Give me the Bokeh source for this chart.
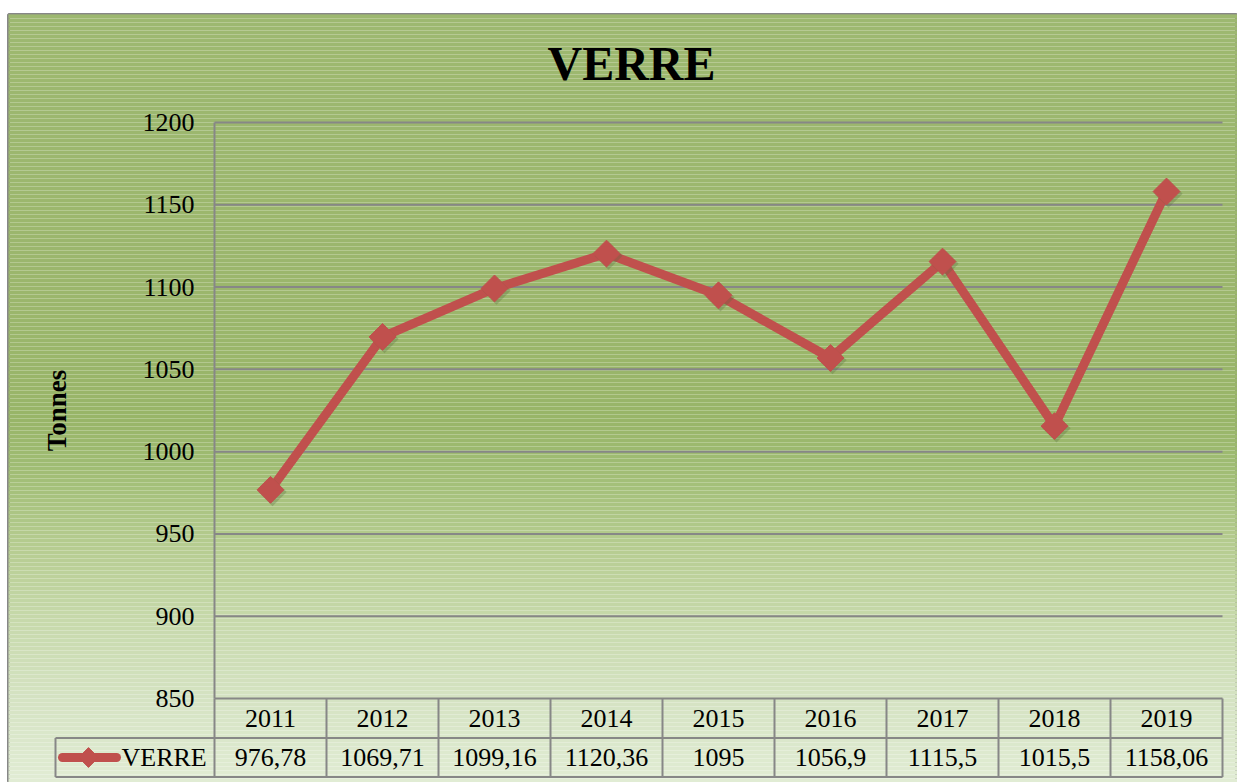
import numpy as np
from bokeh.plotting import figure
from bokeh.models import Range1d, FixedTicker, Label
from bokeh.embed import file_html
from bokeh.resources import INLINE
from bokeh.core.properties import value

# ---------------- data ----------------
years = ["2011", "2012", "2013", "2014", "2015", "2016", "2017", "2018", "2019"]
tonnes = [976.78, 1069.71, 1099.16, 1120.36, 1095, 1056.9, 1115.5, 1015.5, 1158.06]
y_ticks = [850, 900, 950, 1000, 1050, 1100, 1150, 1200]
series_name = "VERRE"
chart_title = "VERRE"
y_label = "Tonnes"

# ---------------- layout helpers (canvas pixels -> data units) ----------------
W, H = 1237, 782
LEFT_WHITE, TOP_WHITE = 8, 14
COL0_PX, COL_W = 270.0, 112.0           # centre of first category, column width
Y_HI_PX, Y_LO_PX = 122.0, 698.0          # pixel rows of 1200 and 850
PX_PER_T = (Y_LO_PX - Y_HI_PX) / (y_ticks[-1] - y_ticks[0])


def X(px):
    return (px - COL0_PX) / COL_W


def Y(py):
    return y_ticks[-1] - (py - Y_HI_PX) / PX_PER_T


n = len(years)
idx = list(range(n))
FONT = "Liberation Serif"
GRID_C = "#878787"
RED = "#c0504d"

p = figure(width=W, height=H, output_backend="svg", toolbar_location=None,
           x_range=Range1d(X(LEFT_WHITE), X(W)), y_range=Range1d(Y(H), Y(TOP_WHITE)),
           x_axis_type=None, min_border_left=LEFT_WHITE, min_border_right=0,
           min_border_bottom=0, min_border_top=TOP_WHITE)
p.border_fill_color = "white"
p.outline_line_color = GRID_C
p.outline_line_width = 3
p.xgrid.visible = False
p.ygrid.visible = False

# ---------------- gradient background ----------------
stops_px = [14, 300, 420, 470, 540, 620, 700, 782]
stops_rgb = np.array([
    [157, 184, 112],
    [155, 182, 108],
    [152, 181, 104],
    [160, 189, 116],
    [180, 203, 142],
    [199, 217, 171],
    [213, 227, 195],
    [225, 236, 212],
])
edges = np.linspace(14, 782, 193)
mids = (edges[:-1] + edges[1:]) / 2
cols = []
for m in mids:
    c = [int(round(np.interp(m, stops_px, stops_rgb[:, k]))) for k in range(3)]
    cols.append("#%02x%02x%02x" % tuple(c))
p.quad(left=X(0), right=X(W + 20), top=[Y(e) for e in edges[:-1]],
       bottom=[Y(e) for e in edges[1:]], fill_color=cols,
       line_color=None, level="underlay")
p.quad(left=X(0), right=X(W + 20), top=Y(0), bottom=Y(14.5),
       fill_color=cols[0], line_color=None, level="underlay")
p.quad(left=X(0), right=X(W + 20), top=Y(781.5), bottom=Y(H + 20),
       fill_color=cols[-1], line_color=None, level="underlay")

# ---------------- y axis ----------------
yax = p.yaxis[0]
yax.fixed_location = -0.5
yax.bounds = (y_ticks[0], y_ticks[-1])
yax.ticker = FixedTicker(ticks=y_ticks)
yax.major_tick_out = 0
yax.major_tick_in = 0
yax.minor_tick_out = 0
yax.minor_tick_in = 0
yax.axis_line_color = GRID_C
yax.axis_line_width = 2
yax.major_label_text_font = FONT
yax.major_label_text_font_size = "26px"
yax.major_label_text_color = "black"
yax.major_label_standoff = 20
yax.axis_label = y_label
yax.axis_label_text_font = FONT
yax.axis_label_text_font_style = "bold"
yax.axis_label_text_font_size = "27px"
yax.axis_label_text_color = "black"
yax.axis_label_standoff = 68

# ---------------- horizontal grid lines ----------------
p.segment(x0=-0.5, x1=n - 0.5, y0=y_ticks, y1=y_ticks,
          line_color=GRID_C, line_width=2)

# ---------------- series ----------------
p.line(x=idx, y=tonnes, line_color=RED, line_width=9, line_join="round")
p.scatter(x=[i + 0.018 for i in idx], y=[v - 1.3 for v in tonnes], marker="square",
          angle=np.pi / 4, size=20, fill_color="#5a6a40", fill_alpha=0.3,
          line_color=None)
p.scatter(x=idx, y=tonnes, marker="square", angle=np.pi / 4, size=19,
          fill_color=RED, line_color=RED)

# ---------------- data table ----------------
T_HEAD_BOT = 737.5
T_BOT = 776.5
LEG_L = 55
p.segment(x0=[i - 0.5 for i in range(n + 1)], x1=[i - 0.5 for i in range(n + 1)],
          y0=y_ticks[0], y1=Y(T_BOT), line_color=GRID_C, line_width=2)
p.segment(x0=X(LEG_L), x1=n - 0.5, y0=[Y(T_HEAD_BOT), Y(T_BOT)],
          y1=[Y(T_HEAD_BOT), Y(T_BOT)], line_color=GRID_C, line_width=2)
p.segment(x0=X(LEG_L), x1=X(LEG_L), y0=Y(T_HEAD_BOT), y1=Y(T_BOT),
          line_color=GRID_C, line_width=2)

p.text(x=idx, y=Y((Y_LO_PX + T_HEAD_BOT) / 2), text=years,
       text_font=value(FONT), text_font_size="26px", text_color="black",
       text_align="center", text_baseline="middle")
val_labels = [f"{v:g}".replace(".", ",") for v in tonnes]
row_mid = Y((T_HEAD_BOT + T_BOT) / 2)
p.text(x=idx, y=row_mid, text=val_labels,
       text_font=value(FONT), text_font_size="26px", text_color="black",
       text_align="center", text_baseline="middle")

# legend key inside the table
p.segment(x0=X(62), x1=X(116), y0=row_mid, y1=row_mid,
          line_color=RED, line_width=9, line_cap="round")
p.scatter(x=[X(88)], y=[row_mid], marker="square", angle=np.pi / 4, size=14,
          fill_color=RED, line_color=RED)
p.text(x=[X(121)], y=[row_mid], text=[series_name],
       text_font=value(FONT), text_font_size="26px", text_color="black",
       text_align="left", text_baseline="middle")

# ---------------- title ----------------
p.add_layout(Label(x=X(631), y=Y(63), text=chart_title, text_font=FONT,
                   text_font_size="48px", text_font_style="bold",
                   text_color="black", text_align="center",
                   text_baseline="middle"))

open("out.html", "w").write(file_html(p, INLINE))
